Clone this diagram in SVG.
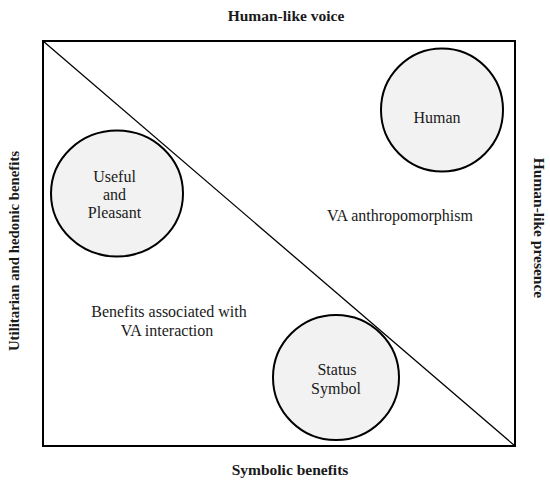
<svg xmlns="http://www.w3.org/2000/svg" width="550" height="481" viewBox="0 0 550 481">
<style>
text{font-family:"Liberation Serif","Times New Roman",serif;fill:#1a1a1a}
.lbl{font-size:16px;text-anchor:middle}
.axis{font-size:15.5px;font-weight:bold;text-anchor:middle}
.node ellipse{fill:#f2f2f2;stroke:#000;stroke-width:2}
</style>
<rect width="550" height="481" fill="#fff"/>
<g id="frame">
<rect x="43" y="41" width="472" height="405" fill="none" stroke="#000" stroke-width="2"/>
</g>
<g id="connectors">
<line x1="43" y1="41" x2="515" y2="446" stroke="#000" stroke-width="1.3"/>
</g>
<g id="axis-labels">
<text class="axis" x="286" y="20.5">Human-like voice</text>
<text class="axis" x="290" y="475">Symbolic benefits</text>
<text class="axis" style="font-size:14.8px" transform="translate(19 251) rotate(-90)">Utilitarian and hedonic benefits</text>
<text class="axis" transform="translate(533.5 228) rotate(90)">Human-like presence</text>
</g>
<g id="node-human" class="node">
<ellipse cx="442" cy="110" rx="61" ry="61.5"/>
<text class="lbl" x="437" y="123">Human</text>
</g>
<g id="node-useful" class="node">
<ellipse cx="117" cy="193.5" rx="66" ry="63"/>
<text class="lbl" x="114.5" y="182">Useful</text>
<text class="lbl" x="114.5" y="200">and</text>
<text class="lbl" x="114.5" y="218">Pleasant</text>
</g>
<g id="node-status" class="node">
<ellipse cx="336" cy="377.5" rx="63" ry="62.5"/>
<text class="lbl" x="337" y="375">Status</text>
<text class="lbl" x="336" y="394">Symbol</text>
</g>
<g id="region-labels">
<text class="lbl" x="169" y="317">Benefits associated with</text>
<text class="lbl" x="167" y="336">VA interaction</text>
<text class="lbl" x="400" y="221">VA anthropomorphism</text>
</g>
</svg>
